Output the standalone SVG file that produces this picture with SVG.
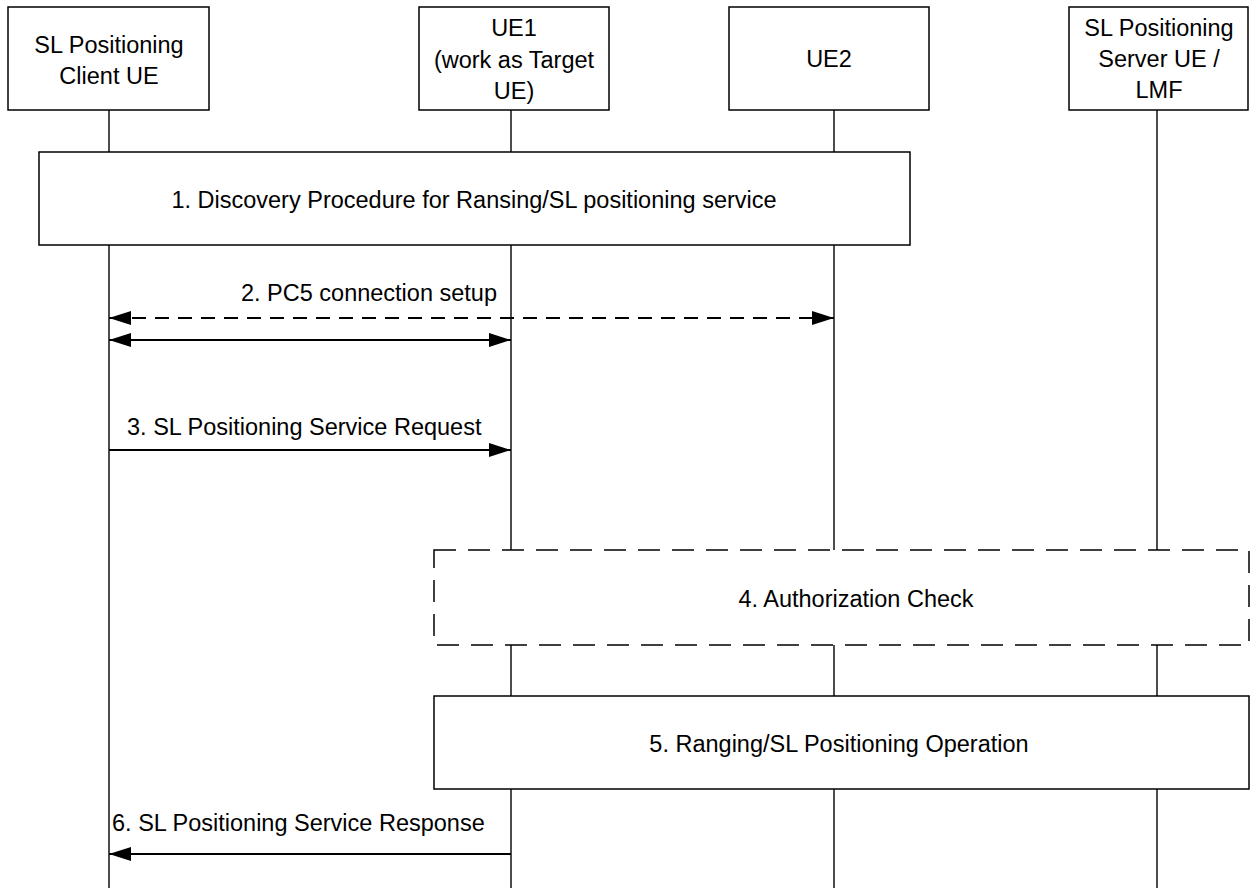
<svg xmlns="http://www.w3.org/2000/svg" width="1250" height="888" viewBox="0 0 1250 888">
<defs>
<style>
text{font-family:"Liberation Sans",Arial,sans-serif;font-size:23.5px;fill:#000}
.c{text-anchor:middle}
.box{fill:#fff;stroke:#000;stroke-width:1.5}
.dbox{fill:#fff;stroke:#000;stroke-width:1.5;stroke-dasharray:22 12}
.life{stroke:#000;stroke-width:1.4;fill:none}
.msg{stroke:#000;stroke-width:1.8;fill:none}
.dash{stroke-dasharray:14 9}
</style>
<marker id="ah" viewBox="0 0 22 14" refX="22" refY="7" markerWidth="22" markerHeight="14" markerUnits="userSpaceOnUse" orient="auto-start-reverse">
<path d="M0,0 L22,7 L0,14 Z" fill="#000"/>
</marker>
</defs>
<g id="lifelines">
<line class="life" x1="109" y1="110" x2="109" y2="888"/>
<line class="life" x1="511" y1="110" x2="511" y2="888"/>
<line class="life" x1="834" y1="110" x2="834" y2="888"/>
<line class="life" x1="1157" y1="110" x2="1157" y2="888"/>
</g>
<g id="client">
<rect class="box" x="8" y="7" width="201" height="103"/>
<text class="c" x="109" y="53">SL Positioning</text>
<text class="c" x="109" y="84">Client UE</text>
</g>
<g id="ue1">
<rect class="box" x="419" y="7" width="190" height="103"/>
<text class="c" x="514" y="36">UE1</text>
<text class="c" x="514" y="68">(work as Target</text>
<text class="c" x="514" y="99">UE)</text>
</g>
<g id="ue2">
<rect class="box" x="729" y="7" width="200" height="103"/>
<text class="c" x="829" y="67">UE2</text>
</g>
<g id="server">
<rect class="box" x="1069" y="7" width="179" height="103"/>
<text class="c" x="1159" y="36">SL Positioning</text>
<text class="c" x="1159" y="67">Server UE /</text>
<text class="c" x="1159" y="98">LMF</text>
</g>
<g id="step1">
<rect class="box" x="39" y="152" width="871" height="93"/>
<text class="c" x="474" y="208">1. Discovery Procedure for Ransing/SL positioning service</text>
</g>
<g id="step4">
<rect class="dbox" x="434" y="550" width="815" height="95"/>
<text class="c" x="856" y="607">4. Authorization Check</text>
</g>
<g id="step5">
<rect class="box" x="434" y="696" width="815" height="93"/>
<text class="c" x="839" y="752">5. Ranging/SL Positioning Operation</text>
</g>
<g id="connectors">
<line class="msg dash" x1="109" y1="318" x2="834" y2="318" marker-start="url(#ah)" marker-end="url(#ah)"/>
<line class="msg" x1="109" y1="340" x2="511" y2="340" marker-start="url(#ah)" marker-end="url(#ah)"/>
<line class="msg" x1="109" y1="450" x2="511" y2="450" marker-end="url(#ah)"/>
<line class="msg" x1="511" y1="854" x2="109" y2="854" marker-end="url(#ah)"/>
</g>
<g id="labels">
<text x="497" y="301" text-anchor="end">2. PC5 connection setup</text>
<text x="127" y="435">3. SL Positioning Service Request</text>
<text x="112" y="831">6. SL Positioning Service Response</text>
</g>
</svg>
